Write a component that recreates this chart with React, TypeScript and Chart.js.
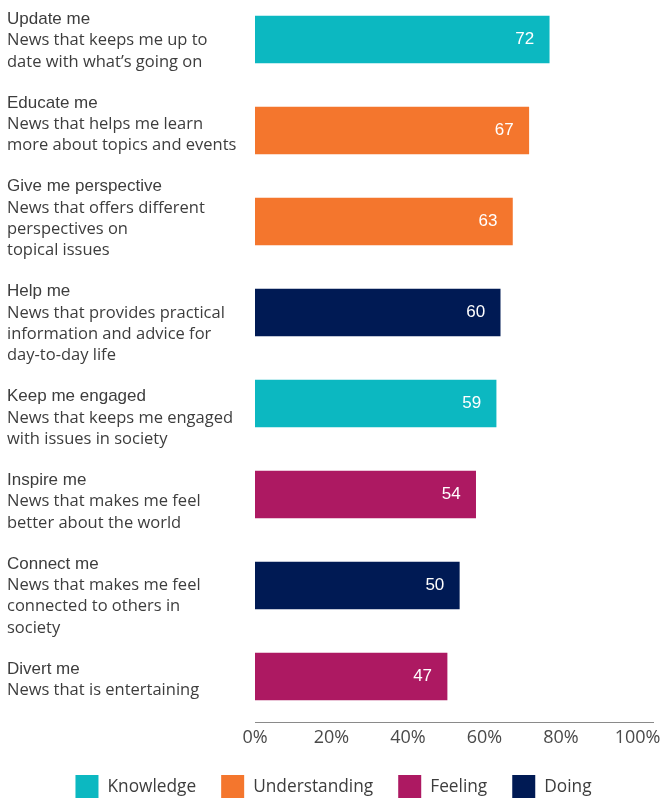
import React, { useEffect, useRef } from "react";
import { Chart, registerables } from "chart.js";

Chart.register(...registerables);

const titles = [
  "Update me",
  "Educate me",
  "Give me perspective",
  "Help me",
  "Keep me engaged",
  "Inspire me",
  "Connect me",
  "Divert me",
];

const descriptions: string[][] = [
  ["News that keeps me up to", "date with what’s going on"],
  ["News that helps me learn", "more about topics and events"],
  ["News that offers different", "perspectives on", "topical issues"],
  ["News that provides practical", "information and advice for", "day-to-day life"],
  ["News that keeps me engaged", "with issues in society"],
  ["News that makes me feel", "better about the world"],
  ["News that makes me feel", "connected to others in", "society"],
  ["News that is entertaining"],
];

const values = [72, 67, 63, 60, 59, 54, 50, 47];

const groups = [
  "Knowledge",
  "Understanding",
  "Understanding",
  "Doing",
  "Knowledge",
  "Feeling",
  "Doing",
  "Feeling",
];

const groupNames = ["Knowledge", "Understanding", "Feeling", "Doing"];
const groupColors = ["#0cb8c1", "#f4762d", "#ad1962", "#001a54"];

const tickValues = [0, 20, 40, 60, 80, 100];

const TEXT = "#3d3d3d";
const TITLE_FONT = '17px "Liberation Sans", Arial, sans-serif';
const DESC_FONT = '16.5px "Open Sans", sans-serif';
const LEGEND_FONT = '17.3px "Open Sans", sans-serif';

const colorOf = (g: string) => groupColors[groupNames.indexOf(g)];

const customDraw = {
  id: "customDraw",
  afterDraw(chart: any) {
    const ctx = chart.ctx as CanvasRenderingContext2D;
    ctx.save();

    // value labels inside bars
    const meta = chart.getDatasetMeta(0);
    ctx.font = TITLE_FONT;
    ctx.fillStyle = "#ffffff";
    ctx.textAlign = "right";
    ctx.textBaseline = "middle";
    meta.data.forEach((bar: any, i: number) => {
      ctx.fillText(String(values[i]), bar.x - 15, bar.y);
    });

    // category labels, flowing text blocks
    const lineH = 21.3;
    const gap = 19.8;
    let y = 24;
    ctx.textAlign = "left";
    ctx.textBaseline = "alphabetic";
    ctx.fillStyle = TEXT;
    titles.forEach((t, i) => {
      const lines = [t, ...descriptions[i]];
      lines.forEach((ln, j) => {
        ctx.font = j === 0 ? TITLE_FONT : DESC_FONT;
        ctx.fillText(ln, 7, y + j * lineH);
      });
      y += lines.length * lineH + gap;
    });

    // legend
    ctx.font = LEGEND_FONT;
    const box = 23;
    const inner = 9;
    const between = 25;
    const widths = groupNames.map((n) => box + inner + ctx.measureText(n).width);
    const total = widths.reduce((a, b) => a + b, 0) + between * (groupNames.length - 1);
    let x = 333.5 - total / 2;
    const top = 775;
    ctx.textBaseline = "middle";
    groupNames.forEach((n, i) => {
      ctx.fillStyle = groupColors[i];
      ctx.fillRect(x, top, box, box);
      ctx.fillStyle = TEXT;
      ctx.fillText(n, x + box + inner, top + box / 2 + 1);
      x += widths[i] + between;
    });

    ctx.restore();
  },
};

export default function App() {
  const ref = useRef<HTMLCanvasElement>(null);

  useEffect(() => {
    if (!ref.current) return;
    const chart = new Chart(ref.current, {
      type: "bar",
      data: {
        datasets: [
          {
            data: values.map((v, i) => ({ x: v, y: i })),
            backgroundColor: groups.map(colorOf),
            barThickness: 47,
            xAxisID: "x",
            yAxisID: "y",
          } as any,
        ],
      },
      options: {
        indexAxis: "y",
        animation: false,
        responsive: false,
        maintainAspectRatio: false,
        layout: { padding: { left: 255, right: 9, top: 0, bottom: 0 } },
        plugins: {
          legend: { display: false },
          tooltip: { enabled: false },
        },
        scales: {
          y: {
            type: "linear",
            reverse: true,
            offset: false,
            grace: 0,
            min: -0.434,
            max: 7.5,
            display: false,
          },
          x: { type: "linear", offset: false, min: 0, max: 97.4, display: false },
          xt: {
            type: "linear",
            position: "bottom",
            offset: false,
            min: 0,
            max: 104.05,
            afterBuildTicks: (s: any) => {
              s.ticks = tickValues.map((v) => ({ value: v }));
            },
            afterFit: (s: any) => {
              s.height = 76;
              s.paddingLeft = 0;
              s.paddingRight = 0;
            },
            grid: { display: false, drawTicks: false },
            border: { display: true, color: "#8a8a8a", width: 1 },
            ticks: {
              callback: (v: any) => v + "%",
              font: { family: '"Open Sans", sans-serif', size: 18 },
              color: "#4a4a4a",
              padding: 5,
              maxRotation: 0,
              autoSkip: false,
            },
          },
        } as any,
      },
      plugins: [customDraw],
    });
    return () => chart.destroy();
  }, []);

  return (
    <div style={{ position: "absolute", left: 0, top: 0, width: 662, height: 798 }}>
      <canvas ref={ref} width={662} height={798} style={{ width: 662, height: 798, display: "block" }} />
    </div>
  );
}
